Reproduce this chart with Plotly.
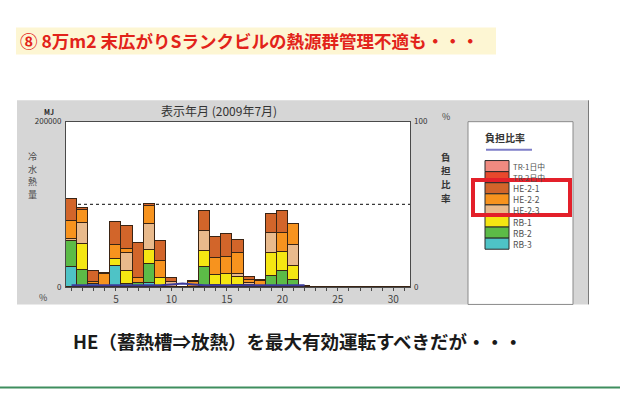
import plotly.graph_objects as go

# ---- data -------------------------------------------------------------
days = list(range(1, 32))
tick_labels = [str(d) if d % 5 == 0 else "" for d in days]

# series names, top of legend first
series_names = ["TR-1日中", "TR-2日中", "HE-2-1", "HE-2-2", "HE-2-3", "RB-1", "RB-2", "RB-3"]
series_colors = ["#F08A80", "#E8482C", "#D2652A", "#F7931E", "#E9BA8C", "#F5E612", "#5CBB47", "#4EC3C6"]

# daily chilled-water heat per machine [MJ], days 1..31
tr1 = [0] * 31
tr2 = [0] * 31
he21 = [26300, 2400, 13600, 1500, 27400, 28200, 42500, 2700, 24300, 4700, 0, 1500, 24700, 25400, 28200, 14800,
        4000, 1600, 23500, 25900, 1000, 1500, 0, 0, 0, 0, 0, 0, 0, 0, 0]
he22 = [21900, 16500, 2000, 15800, 16800, 5000, 6300, 21500, 20700, 0, 0, 6500, 0, 20800, 19600, 25500,
        3000, 7000, 0, 23500, 24300, 0, 0, 0, 0, 0, 0, 0, 0, 0, 0]
he23 = [2000, 25500, 0, 0, 0, 21200, 0, 31400, 0, 6700, 0, 0, 23500, 0, 0, 3900,
        3000, 0, 23500, 0, 25500, 0, 0, 0, 0, 0, 0, 0, 0, 0, 0]
rb1 = [0, 30600, 0, 0, 8600, 15300, 0, 17600, 11400, 0, 0, 0, 19600, 12500, 14500, 9900,
       2600, 0, 28200, 23500, 17600, 0, 0, 0, 0, 0, 0, 0, 0, 0, 0]
rb2 = [32100, 21200, 0, 0, 0, 3000, 3500, 22400, 0, 0, 0, 0, 22400, 2700, 2000, 2700,
       0, 0, 13800, 19200, 8600, 0, 0, 0, 0, 0, 0, 0, 0, 0, 0]
rb3 = [24300, 0, 4000, 0, 26200, 1500, 1500, 5500, 0, 0, 0, 0, 2000, 0, 0, 0,
       0, 0, 0, 0, 0, 0, 0, 0, 0, 0, 0, 0, 0, 0, 0]
series_values = [tr1, tr2, he21, he22, he23, rb1, rb2, rb3]

# load share ratio [%]
ratio = [1, 1, 1, 1, 1, 1, 1, 1, 1, 1.5, 2, 1.5, 1, 1, 1, 1, 1, 1, 1, 1, 1, 1,
         None, None, None, None, None, None, None, None, None]

reference_heat = 100000
y_max = 200000

# ---- page geometry helpers ---------------------------------------------
W, H = 620, 394
PLOT_L, PLOT_R, PLOT_T, PLOT_B = 66, 410, 119, 289


def fx(x):
    return x / W


def fy(y):
    return 1 - y / H


CJK = "Noto Sans CJK JP"
NARROW = "Liberation Sans Narrow, Noto Sans CJK JP, sans-serif"
GREY_TXT = "#404040"

fig = go.Figure()

# stacked bars, bottom series first
for name, color, vals in reversed(list(zip(series_names, series_colors, series_values))):
    fig.add_trace(go.Bar(
        x=days, y=vals, name=name,
        marker=dict(color=color, line=dict(color="#3a2414", width=1)),
        xaxis="x", yaxis="y",
    ))

fig.add_trace(go.Scatter(
    x=days, y=ratio, name="負担比率", mode="lines",
    line=dict(color="#3c3c9c", width=2),
    xaxis="x", yaxis="y2",
))

shapes = [
    # grey chart panel
    dict(type="rect", xref="paper", yref="paper", x0=fx(17), x1=fx(588), y0=fy(307), y1=fy(97),
         fillcolor="#D6D6D6", line=dict(width=0), layer="below"),
    # white plotting area on top of the panel
    dict(type="rect", xref="paper", yref="paper", x0=fx(PLOT_L), x1=fx(PLOT_R), y0=fy(PLOT_B), y1=fy(PLOT_T),
         fillcolor="white", line=dict(width=0), layer="below"),
    dict(type="line", xref="paper", yref="paper", x0=fx(588.5), x1=fx(588.5), y0=fy(307), y1=fy(97),
         line=dict(color="#7a7a7a", width=1), layer="below"),
    # legend panel
    dict(type="rect", xref="paper", yref="paper", x0=fx(468), x1=fx(573), y0=fy(307), y1=fy(119),
         fillcolor="white", line=dict(color="#8a8a8a", width=1), layer="below"),
    # heading band
    dict(type="rect", xref="paper", yref="paper", x0=fx(16), x1=fx(496), y0=fy(50), y1=fy(22),
         fillcolor="#FDF6D3", line=dict(width=0), layer="below"),
    # footer rule
    dict(type="line", xref="paper", yref="paper", x0=0, x1=1, y0=fy(392.5), y1=fy(392.5),
         line=dict(color="#3F8E5E", width=2)),
    # reference level
    dict(type="line", xref="x", yref="y", x0=0.5, x1=31.5, y0=reference_heat, y1=reference_heat,
         line=dict(color="#3a3a3a", width=1.3, dash="dot"), layer="below"),
    # legend key line for the ratio
    dict(type="line", xref="paper", yref="paper", x0=fx(486), x1=fx(532), y0=fy(148), y1=fy(148),
         line=dict(color="#7E7EC8", width=2)),
]

annotations = []


def text(x, y, s, size, color=GREY_TXT, family=CJK, anchor="center", weight="normal", align="center"):
    annotations.append(dict(xref="paper", yref="paper", x=fx(x), y=fy(y), text=s, showarrow=False,
                            xanchor=anchor, yanchor="middle", borderpad=0, align=align,
                            font=dict(family=family, size=size, color=color, weight=weight)))


# legend swatches and labels
row_h = 11.4
top = 159
for i, (name, color) in enumerate(zip(series_names, series_colors)):
    y0 = top + i * row_h
    shapes.append(dict(type="rect", xref="paper", yref="paper",
                       x0=fx(485), x1=fx(509), y0=fy(y0 + row_h), y1=fy(y0),
                       fillcolor=color, line=dict(color="#2a2a2a", width=1)))
    size = 8.5 if name.isascii() else 7.8
    text(512, y0 + row_h / 2, name, size, color="#505050", family=NARROW, anchor="left")

# highlight frame around the HE rows
shapes.append(dict(type="rect", xref="paper", yref="paper", x0=fx(473), x1=fx(570), y0=fy(215), y1=fy(179),
                   line=dict(color="#E3202A", width=4)))

# headline and footer message
text(19, 36, "⑧ 8万m2 末広がりSランクビルの熱源群管理不適も・・・", 17.5, color="#E2231A", anchor="left", weight="bold")
text(298, 345, "HE（蓄熱槽⇒放熱）を最大有効運転すべきだが・・・", 18.5, color="#1a1a1a", weight="bold")

# chart captions
text(219, 108, "表示年月 (2009年7月)", 12, color="#333333")
text(49, 109, "MJ", 7, color="#222222", family=NARROW, weight="bold")
text(43, 300, "%", 9, color="#444444", family=NARROW)
text(446, 114, "%", 9, color="#444444", family=NARROW)
# vertical axis titles, one character per position
for ch, yy in zip("冷水熱量", [155, 168, 181, 194]):
    text(32, yy, ch, 9, color="#4a4a4a")
for ch, yy in zip("負担比率", [155, 169, 183, 197]):
    text(446, yy, ch, 9.5, color="#333333", weight="bold")
text(484, 135, "負担比率", 10, color="#333333", anchor="left", weight="bold")

axis_line = dict(showline=True, linecolor="#4a4a4a", linewidth=1, showgrid=False, zeroline=False)

fig.update_layout(
    width=W, height=H,
    margin=dict(l=0, r=0, t=0, b=0),
    paper_bgcolor="white",
    plot_bgcolor="white",
    barmode="stack",
    bargap=0,
    showlegend=False,
    shapes=shapes,
    annotations=annotations,
    xaxis=dict(domain=[fx(PLOT_L), fx(PLOT_R)], range=[0.5, 31.5], tickmode="array", tickvals=days,
               ticktext=tick_labels, ticks="outside", ticklen=3, tickcolor="#4a4a4a",
               tickfont=dict(family=NARROW, size=10, color="#444444"), mirror=True, **axis_line),
    yaxis=dict(domain=[fy(PLOT_B), fy(PLOT_T)], range=[0, y_max], tickmode="array", tickvals=[0, y_max],
               ticktext=["0", "200000"], ticks="", ticklabelstandoff=2,
               tickfont=dict(family=NARROW, size=8, color="#333333"), mirror=True, **axis_line),
    yaxis2=dict(overlaying="y", side="right", range=[0, 100], tickmode="array", tickvals=[0, 100],
                ticktext=["0", "100"], ticks="", ticklabelstandoff=3,
                tickfont=dict(family=NARROW, size=8, color="#333333"),
                showgrid=False, zeroline=False, showline=False),
)

fig.write_html("out.html")
